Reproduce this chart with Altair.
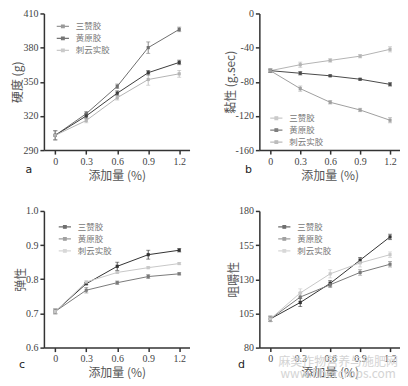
import altair as alt
import pandas as pd

x_vals = [0, 0.3, 0.6, 0.9, 1.2]
series = ["三赞胶", "黄原胶", "刺云实胶"]

# a: 硬度 (g)
hard_szj = [303, 322, 346, 380, 396]
hard_hyj = [303, 320, 340, 358, 367]
hard_cys = [303, 316, 336, 352, 357]
hard_err_szj = [4, 2, 2, 5, 2]
hard_err_hyj = [4, 2, 2, 2, 2]
hard_err_cys = [4, 2, 2, 5, 3]

# b: 黏性 (g.sec)
adh_szj = [-67, -60, -55, -50, -42]
adh_hyj = [-67, -70, -73, -77, -83]
adh_cys = [-67, -88, -104, -113, -125]
adh_err_szj = [2, 3, 2, 2, 3]
adh_err_hyj = [2, 2, 1, 1, 2]
adh_err_cys = [2, 3, 2, 2, 3]

# c: 弹性
spr_szj = [0.706, 0.787, 0.838, 0.872, 0.885]
spr_hyj = [0.706, 0.768, 0.790, 0.808, 0.816]
spr_cys = [0.706, 0.792, 0.820, 0.834, 0.846]
spr_err_szj = [0.007, 0.003, 0.012, 0.013, 0.005]
spr_err_hyj = [0.007, 0.008, 0.005, 0.006, 0.003]
spr_err_cys = [0.007, 0.003, 0.003, 0.003, 0.003]

# d: 咀嚼性
chw_szj = [101, 113, 127, 144, 161]
chw_hyj = [101, 117, 126, 135, 141]
chw_cys = [101, 120, 134, 142, 148]
chw_err_szj = [2, 3, 2, 2, 2]
chw_err_hyj = [2, 3, 2, 2, 2]
chw_err_cys = [2, 3, 3, 3, 2]

watermark = ["麻类作物营养与施肥网", "www.fibercrops.com"]

CJK = "Noto Sans CJK SC"
SERIF = "Liberation Serif"
SYMBOL = "M-1,0H1M-0.22,-0.22H0.22V0.22H-0.22Z"


def panel(vals, errs, colors, ydom, yticks, ytitle, lab_expr, leg_xy, letter,
          letter_xy, w, h, wm=False):
    rows = []
    for s, v_list, e_list in zip(series, vals, errs):
        for xv, v, e in zip(x_vals, v_list, e_list):
            rows.append({"x": xv, "y": v, "lo": v - e, "hi": v + e, "s": s})
    df = pd.DataFrame(rows)
    xs = alt.Scale(domain=[-0.11, 1.3], nice=False, zero=False)
    ys = alt.Scale(domain=ydom, nice=False, zero=False)
    color = alt.Color(
        "s:N",
        sort=series,
        scale=alt.Scale(domain=series, range=colors),
        legend=alt.Legend(
            title=None, orient="none", legendX=leg_xy[0], legendY=leg_xy[1],
            symbolType=SYMBOL, symbolSize=150, symbolStrokeWidth=1.2,
            labelFont=CJK, labelFontSize=8.5, labelColor="#777",
            rowPadding=0, labelOffset=6,
        ),
    )
    xaxis = alt.Axis(values=x_vals, format="~g", title="添加量 (%)", titlePadding=4,
                     labelFont=SERIF, labelFontSize=10)
    yaxis = alt.Axis(values=yticks, labelExpr=lab_expr, title=ytitle, titlePadding=-2,
                     labelFont=SERIF, labelFontSize=10)
    xenc = alt.X("x:Q", scale=xs, axis=xaxis)
    base = alt.Chart(df)
    line = base.mark_line(strokeWidth=1).encode(
        x=xenc, y=alt.Y("y:Q", scale=ys, axis=yaxis), color=color)
    bars = base.mark_rule(strokeWidth=0.8).encode(
        x=xenc, y=alt.Y("lo:Q", scale=ys, axis=yaxis), y2="hi:Q", color=color)
    cap_lo = base.mark_tick(orient="horizontal", size=4, thickness=0.8).encode(
        x=xenc, y=alt.Y("lo:Q", scale=ys, axis=yaxis), color=color)
    cap_hi = base.mark_tick(orient="horizontal", size=4, thickness=0.8).encode(
        x=xenc, y=alt.Y("hi:Q", scale=ys, axis=yaxis), color=color)
    pts = base.mark_point(shape="square", filled=True, size=10, opacity=1).encode(
        x=xenc, y=alt.Y("y:Q", scale=ys, axis=yaxis), color=color)
    lab = alt.Chart(pd.DataFrame({"t": [letter]})).mark_text(
        font="DejaVu Sans", fontSize=11, color="#222", align="center",
        baseline="middle").encode(
        text="t:N", x=alt.value(letter_xy[0]), y=alt.value(h + letter_xy[1]))
    layers = [line, bars, cap_lo, cap_hi, pts, lab]
    if wm:
        for i, t in enumerate(watermark):
            layers.append(alt.Chart(pd.DataFrame({"t": [t]})).mark_text(
                font=CJK, fontSize=12, color="#d4d4d4", align="center",
                baseline="middle").encode(
                text="t:N", x=alt.value(w - 62), y=alt.value(h + 14 + 12 * i)))
    return alt.layer(*layers).properties(width=w, height=h)


W1, W2, H = 146, 141, 137

pa = panel([hard_szj, hard_hyj, hard_cys], [hard_err_szj, hard_err_hyj, hard_err_cys],
           ["#6e6e6e", "#3c3c3c", "#b4b4b4"], [290, 410], [290, 320, 350, 380, 410],
           "硬度 (g)", "datum.value + ''", (12, 6), "a", (-15, 20), W1, H)
pb = panel([adh_szj, adh_hyj, adh_cys], [adh_err_szj, adh_err_hyj, adh_err_cys],
           ["#b4b4b4", "#4a4a4a", "#a0a0a0"], [-160, 0], [-160, -120, -80, -40, 0],
           "黏性 (g.sec)", "datum.value + ''", (10, 98), "b", (-11, 20), W2, H)
pc = panel([spr_szj, spr_hyj, spr_cys], [spr_err_szj, spr_err_hyj, spr_err_cys],
           ["#333333", "#7a7a7a", "#c8c8c8"], [0.6, 1.0], [0.6, 0.7, 0.8, 0.9, 1.0],
           "弹性", "format(datum.value, '.1f')", (14, 9), "c", (-22, 17), W1, H)
pd_ = panel([chw_szj, chw_hyj, chw_cys], [chw_err_szj, chw_err_hyj, chw_err_cys],
            ["#333333", "#7a7a7a", "#c8c8c8"], [80, 180], [80, 105, 130, 155, 180],
            "咀嚼性", "datum.value + ''", (18, 9), "d", (-18, 17), W2, H, wm=True)

chart = alt.concat(pa, pb, pc, pd_, columns=2, spacing={"row": 25, "column": 34}).resolve_scale(
    color="independent", x="independent", y="independent"
).configure(padding={"left": 4, "top": 0, "right": 0, "bottom": 0}).configure_view(
    stroke=None
).configure_axis(
    grid=False, domainColor="#333", domainWidth=1.5, tickColor="#333", tickWidth=1.5,
    tickSize=4, labelFont=SERIF, labelFontSize=10, labelColor="#444", labelPadding=2,
    titleFont=CJK, titleFontSize=12, titleFontWeight="normal", titleColor="#555",
)

chart.save("out.html", embed_options={"renderer": "svg", "actions": False})
